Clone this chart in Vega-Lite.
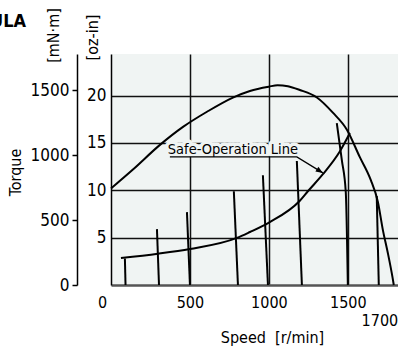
{
  "$schema": "https://vega.github.io/schema/vega-lite/v6.json",
  "width": 300,
  "height": 231,
  "autosize": {"type": "none"},
  "padding": {"left": 111, "top": 54, "right": 0, "bottom": 61},
  "background": "white",
  "config": {
    "font": "DejaVu Sans Condensed, Liberation Sans, sans-serif",
    "view": {"fill": "#f0f4f3", "stroke": null},
    "axis": {"labelColor": "black", "titleColor": "black", "titleFontWeight": "normal", "labelFont": "DejaVu Sans Condensed, Liberation Sans, sans-serif", "titleFont": "DejaVu Sans Condensed, Liberation Sans, sans-serif"}
  },
  "title": {
    "text": ["SE", "ULA"],
    "anchor": "start",
    "frame": "group",
    "align": "right",
    "dx": -85,
    "dy": 27,
    "fontSize": 18,
    "fontWeight": "bold",
    "font": "DejaVu Sans Condensed",
    "lineHeight": 27,
    "color": "black"
  },
  "datasets": {
    "curves": [
      {"c": "T", "s": 0, "oz": 10.2}, {"c": "T", "s": 139, "oz": 12.2}, {"c": "T", "s": 310, "oz": 14.8}, {"c": "T", "s": 456, "oz": 16.7}, {"c": "T", "s": 608, "oz": 18.3}, {"c": "T", "s": 772, "oz": 19.8}, {"c": "T", "s": 880, "oz": 20.5}, {"c": "T", "s": 1000, "oz": 20.95}, {"c": "T", "s": 1055, "oz": 21.1}, {"c": "T", "s": 1120, "oz": 21.0}, {"c": "T", "s": 1196, "oz": 20.6}, {"c": "T", "s": 1304, "oz": 19.8}, {"c": "T", "s": 1405, "oz": 18.2}, {"c": "T", "s": 1494, "oz": 16.4}, {"c": "T", "s": 1576, "oz": 13.5}, {"c": "T", "s": 1645, "oz": 11.1}, {"c": "T", "s": 1690, "oz": 8.8}, {"c": "T", "s": 1722, "oz": 5.8}, {"c": "T", "s": 1753, "oz": 3.4}, {"c": "T", "s": 1783, "oz": 0.8}, {"c": "T", "s": 1791, "oz": 0},
      {"c": "S", "s": 63, "oz": 2.85}, {"c": "S", "s": 297, "oz": 3.3}, {"c": "S", "s": 500, "oz": 3.8}, {"c": "S", "s": 797, "oz": 4.97}, {"c": "S", "s": 880, "oz": 5.6}, {"c": "S", "s": 1000, "oz": 6.6}, {"c": "S", "s": 1196, "oz": 8.9}, {"c": "S", "s": 1247, "oz": 9.9}, {"c": "S", "s": 1342, "oz": 11.7}, {"c": "S", "s": 1449, "oz": 14.1}, {"c": "S", "s": 1513, "oz": 16.05},
      {"c": "V1", "s": 88, "oz": 2.8}, {"c": "V1", "s": 92, "oz": 0},
      {"c": "V2", "s": 291, "oz": 5.9}, {"c": "V2", "s": 304, "oz": 0},
      {"c": "V3", "s": 481, "oz": 7.7}, {"c": "V3", "s": 500, "oz": 0},
      {"c": "V4", "s": 778, "oz": 9.9}, {"c": "V4", "s": 804, "oz": 0},
      {"c": "V5", "s": 962, "oz": 11.6}, {"c": "V5", "s": 994, "oz": 0},
      {"c": "V6", "s": 1177, "oz": 13.1}, {"c": "V6", "s": 1209, "oz": 0},
      {"c": "V7", "s": 1430, "oz": 17.1}, {"c": "V7", "s": 1462, "oz": 13.2}, {"c": "V7", "s": 1487, "oz": 9.8}, {"c": "V7", "s": 1500, "oz": 0},
      {"c": "V8", "s": 1683, "oz": 9.4}, {"c": "V8", "s": 1696, "oz": 0}
    ],
    "leader": [
      {"s": 373, "oz": 13.53}, {"s": 1177, "oz": 13.53}, {"s": 1342, "oz": 11.84}
    ],
    "label": [
      {"s": 772, "oz": 14.3, "t": "Safe-Operation Line"}
    ],
    "arrow": [
      {"s": 1342, "oz": 11.84}
    ]
  },
  "resolve": {"scale": {"y": "independent"}},
  "layer": [
    {
      "layer": [
        {
          "data": {"name": "curves"},
          "mark": {"type": "line", "color": "black", "strokeWidth": 2, "interpolate": "monotone"},
          "encoding": {
            "x": {
              "field": "s", "type": "quantitative",
              "scale": {"domain": [0, 1900], "nice": false, "zero": false},
              "axis": {
                "values": [0, 500, 1000, 1500, 1700],
                "format": "d",
                "grid": true,
                "gridColor": "#111",
                "gridWidth": 1.5,
                "gridOpacity": {"condition": {"test": "datum.value == 500 || datum.value == 1000 || datum.value == 1500", "value": 1}, "value": 0},
                "ticks": false,
                "domainColor": "#555",
                "domainWidth": 2.5,
                "labelFontSize": 16,
                "labelPadding": {"condition": {"test": "datum.value == 1700", "value": 27}, "value": 9},
                "labelOffset": {"condition": {"test": "datum.value == 0", "value": -9}, "value": 0},
                "labelFlush": false,
                "labelOverlap": false,
                "title": "Speed \u00a0[r/min]",
                "titleFontSize": 16,
                "titleX": 161,
                "titleY": 52,
                "titleAlign": "center",
                "titleBaseline": "middle"
              }
            },
            "y": {
              "field": "oz", "type": "quantitative",
              "scale": {"domain": [0, 24.4], "nice": false, "zero": false},
              "axis": {
                "values": [5, 10, 15, 20],
                "format": "d",
                "grid": true,
                "gridColor": "#111",
                "gridWidth": 1.5,
                "ticks": false,
                "domainColor": "black",
                "domainWidth": 1.5,
                "labelPadding": 5,
                "labelFontSize": 17,
                "title": "[oz-in]",
                "titleFontSize": 16,
                "titleAngle": -90,
                "titleX": -19,
                "titleY": -17,
                "titleAlign": "center",
                "titleBaseline": "middle"
              }
            },
            "detail": {"field": "c"}
          }
        },
        {
          "data": {"name": "label"},
          "mark": {"type": "text", "fontSize": 14.5, "stroke": "#f0f4f3", "strokeWidth": 7, "strokeJoin": "round", "align": "center", "baseline": "middle"},
          "encoding": {
            "x": {"field": "s", "type": "quantitative"},
            "y": {"field": "oz", "type": "quantitative"},
            "text": {"field": "t"}
          }
        },
        {
          "data": {"name": "label"},
          "mark": {"type": "text", "fontSize": 14.5, "color": "black", "align": "center", "baseline": "middle"},
          "encoding": {
            "x": {"field": "s", "type": "quantitative"},
            "y": {"field": "oz", "type": "quantitative"},
            "text": {"field": "t"}
          }
        },
        {
          "data": {"name": "leader"},
          "mark": {"type": "line", "color": "black", "strokeWidth": 1.3},
          "encoding": {
            "x": {"field": "s", "type": "quantitative"},
            "y": {"field": "oz", "type": "quantitative"}
          }
        },
        {
          "data": {"name": "arrow"},
          "mark": {"type": "point", "shape": "M0,0L-1,-0.4L-1,0.4Z", "filled": true, "color": "black", "opacity": 1, "size": 200, "angle": 32},
          "encoding": {
            "x": {"field": "s", "type": "quantitative"},
            "y": {"field": "oz", "type": "quantitative"}
          }
        }
      ]
    },
    {
      "data": {"values": [{"m": 0}, {"m": 1777}]},
      "mark": {"type": "point", "opacity": 0},
      "encoding": {
        "y": {
          "field": "m", "type": "quantitative",
          "scale": {"domain": [0, 1777], "nice": false, "zero": false},
          "axis": {
            "orient": "left",
            "offset": 34,
            "values": [0, 500, 1000, 1500],
            "format": "d",
            "grid": false,
            "tickSize": 5,
            "tickColor": "black",
            "tickWidth": 1.5,
            "domainColor": "black",
            "domainWidth": 1.5,
            "labelPadding": 3,
            "labelFontSize": 17,
            "title": "[mN\u00b7m]",
            "titleFontSize": 16,
            "titleAngle": -90,
            "titleX": -24,
            "titleY": -19,
            "titleAlign": "center",
            "titleBaseline": "middle"
          }
        }
      }
    },
    {
      "data": {"values": [{"q": 0}, {"q": 1}]},
      "mark": {"type": "point", "opacity": 0},
      "encoding": {
        "y": {
          "field": "q", "type": "quantitative",
          "scale": {"domain": [0, 1]},
          "axis": {
            "orient": "left",
            "domain": false,
            "ticks": false,
            "labels": false,
            "grid": false,
            "title": "Torque",
            "titleFontSize": 16,
            "titleAngle": -90,
            "titleX": -96,
            "titleY": 118,
            "titleAlign": "center",
            "titleBaseline": "middle"
          }
        }
      }
    }
  ]
}
